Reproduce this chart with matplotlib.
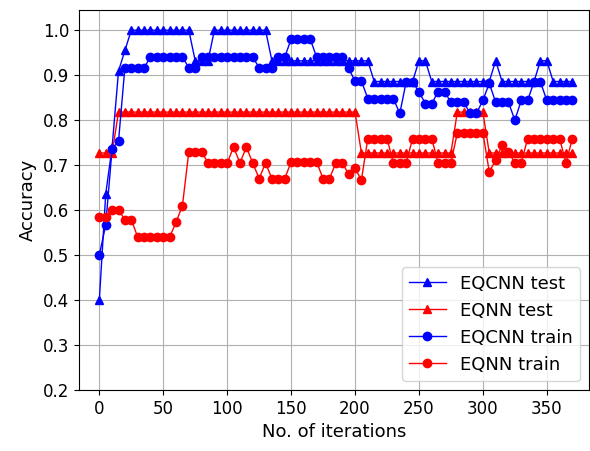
import matplotlib
matplotlib.use('Agg')
import matplotlib.pyplot as plt

iterations = list(range(0, 371, 5))

eqcnn_test = [
    0.40, 0.636, 0.74, 0.909, 0.955,
    1.0, 1.0, 1.0, 1.0, 1.0, 1.0, 1.0, 1.0, 1.0, 1.0,
    0.932, 0.932, 0.932,
    1.0, 1.0, 1.0, 1.0, 1.0, 1.0, 1.0, 1.0, 1.0,
    0.932, 0.932, 0.932, 0.932, 0.932, 0.932, 0.932, 0.932,
    0.932, 0.932, 0.932, 0.932, 0.932, 0.932, 0.932, 0.932,
    0.886, 0.886, 0.886, 0.886, 0.886, 0.886, 0.886,
    0.932, 0.932,
    0.886, 0.886, 0.886, 0.886, 0.886, 0.886, 0.886, 0.886, 0.886, 0.886,
    0.932,
    0.886, 0.886, 0.886, 0.886, 0.886, 0.886,
    0.932, 0.932,
    0.886, 0.886, 0.886, 0.886,
]

eqnn_test = [
    0.727, 0.727, 0.727,
    0.818, 0.818, 0.818, 0.818, 0.818, 0.818, 0.818, 0.818, 0.818, 0.818,
    0.818, 0.818, 0.818, 0.818, 0.818, 0.818, 0.818, 0.818, 0.818, 0.818,
    0.818, 0.818, 0.818, 0.818, 0.818, 0.818, 0.818, 0.818, 0.818, 0.818,
    0.818, 0.818, 0.818, 0.818, 0.818, 0.818, 0.818, 0.818,
    0.727, 0.727, 0.727, 0.727, 0.727, 0.727, 0.727, 0.727, 0.727, 0.727,
    0.727, 0.727, 0.727, 0.727, 0.727,
    0.818, 0.818, 0.818, 0.818, 0.818,
    0.727, 0.727, 0.727, 0.727, 0.727, 0.727, 0.727, 0.727, 0.727, 0.727,
    0.727, 0.727, 0.727, 0.727,
]

eqcnn_train = [
    0.50, 0.567, 0.737, 0.753,
    0.917, 0.917, 0.917, 0.917,
    0.94, 0.94, 0.94, 0.94, 0.94, 0.94,
    0.917, 0.917,
    0.94, 0.94, 0.94, 0.94, 0.94, 0.94, 0.94, 0.94, 0.94,
    0.917, 0.917, 0.917,
    0.94, 0.94,
    0.98, 0.98, 0.98, 0.98,
    0.94, 0.94, 0.94, 0.94, 0.94,
    0.915,
    0.887, 0.887,
    0.848, 0.848, 0.848, 0.848, 0.848,
    0.815,
    0.885, 0.885,
    0.863,
    0.837, 0.837,
    0.863, 0.863,
    0.84, 0.84, 0.84,
    0.815, 0.815,
    0.844,
    0.882,
    0.84, 0.84, 0.84,
    0.80,
    0.844, 0.844,
    0.885, 0.885,
    0.844, 0.844, 0.844, 0.844, 0.844,
]

eqnn_train = [
    0.585, 0.585, 0.60, 0.60, 0.579, 0.579,
    0.54, 0.54, 0.54, 0.54, 0.54, 0.54,
    0.573, 0.61,
    0.73, 0.73, 0.73,
    0.705, 0.705, 0.705, 0.705,
    0.74, 0.705, 0.74, 0.705, 0.67, 0.705,
    0.67, 0.67, 0.67,
    0.707, 0.707, 0.707, 0.707, 0.707,
    0.67, 0.67,
    0.705, 0.705,
    0.68, 0.693, 0.667,
    0.759, 0.759, 0.759, 0.759,
    0.705, 0.705, 0.705,
    0.759, 0.759, 0.759, 0.759,
    0.705, 0.705, 0.705,
    0.772, 0.772, 0.772, 0.772, 0.772,
    0.685, 0.711, 0.744, 0.73,
    0.705, 0.705,
    0.759, 0.759, 0.759, 0.759, 0.759, 0.759,
    0.705, 0.759,
]

fig = plt.figure(figsize=(5.9, 4.51), dpi=100)
ax = fig.add_axes([79 / 590, 61 / 451, 510 / 590, 380 / 451])

ax.plot(iterations, eqcnn_test, color='blue', marker='^', markersize=6, linewidth=1, label='EQCNN test')
ax.plot(iterations, eqnn_test, color='red', marker='^', markersize=6, linewidth=1, label='EQNN test')
ax.plot(iterations, eqcnn_train, color='blue', marker='o', markersize=6, linewidth=1, label='EQCNN train')
ax.plot(iterations, eqnn_train, color='red', marker='o', markersize=6, linewidth=1, label='EQNN train')

ax.set_xlim(-15.9, 383)
ax.set_ylim(0.2, 1.045)
ax.set_xticks([0, 50, 100, 150, 200, 250, 300, 350])
ax.set_yticks([0.2, 0.3, 0.4, 0.5, 0.6, 0.7, 0.8, 0.9, 1.0])
ax.tick_params(labelsize=12)
ax.set_xlabel('No. of iterations', fontsize=13)
ax.set_ylabel('Accuracy', fontsize=13)
ax.grid(True)
ax.legend(loc='lower right', fontsize=13)

fig.savefig('out.png', dpi=100)
